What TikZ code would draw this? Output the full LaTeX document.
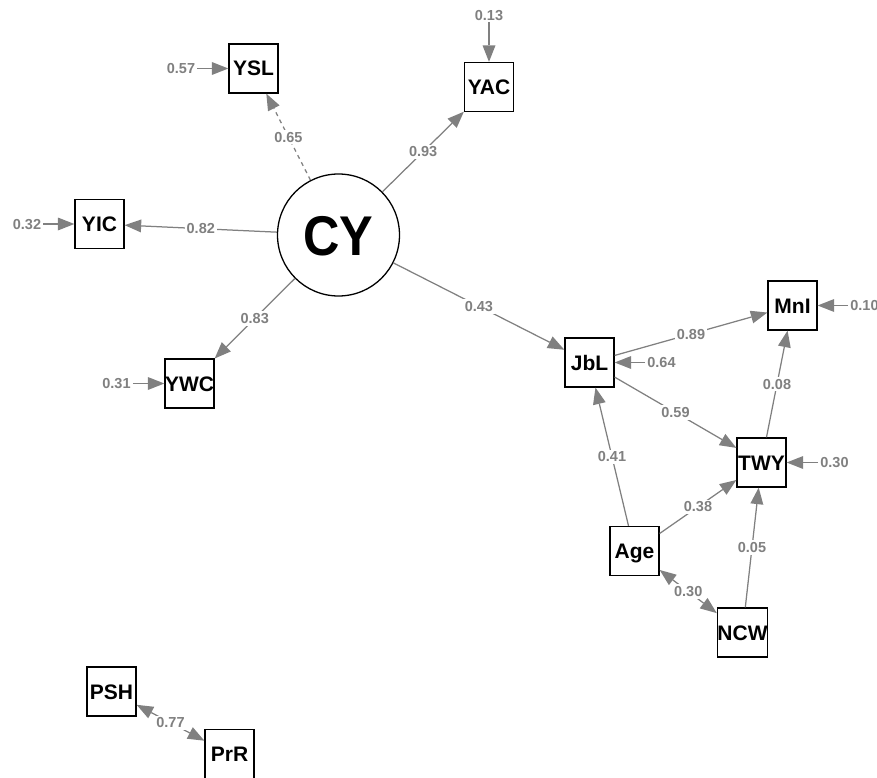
\documentclass[tikz,border=0pt]{standalone}
\usepackage{fontspec}
\setmainfont{Liberation Sans}
\usetikzlibrary{arrows.meta}
\begin{document}
\begin{tikzpicture}[x=1pt,y=-1pt,
  vbox/.style={draw=black, line width=1.3pt, fill=white, minimum size=49pt, inner sep=0pt,
    font=\fontsize{21}{22}\selectfont\bfseries, text height=15pt, text depth=0pt},
  lvar/.style={circle, draw=black, line width=1.3pt, fill=white, minimum size=122pt, inner sep=0pt,
    font=\fontsize{56}{57}\selectfont\bfseries, text height=40pt, text depth=0pt},
  arr/.style={draw=gray, line width=1.25pt, -{Triangle[length=16.5pt,width=13pt,line width=0pt]}},
  biarr/.style={draw=gray, line width=1.25pt, {Triangle[length=16.5pt,width=13pt,line width=0pt]}-{Triangle[length=16.5pt,width=13pt,line width=0pt]}},
  elab/.style={fill=white, text=gray, inner sep=2pt, font=\fontsize{14.5}{15}\selectfont\bfseries, text height=10.4pt, text depth=0pt},
  rlab/.style={text=gray, inner sep=2pt, font=\fontsize{14.5}{15}\selectfont\bfseries, text height=10.4pt, text depth=0pt}
]
\useasboundingbox (0,0) rectangle (877,778);
\clip (0,0) rectangle (877,778);

% nodes
\node[lvar] (CY) at (338.5,235) {\scalebox{0.9}[1]{CY}};
\node[vbox] (YSL) at (253.5,68.5) {YSL};
\node[vbox] (YAC) at (489,87) {YAC};
\node[vbox] (YIC) at (99.5,224) {YIC};
\node[vbox] (YWC) at (189.5,383.5) {YWC};
\node[vbox] (JbL) at (589.5,362.5) {JbL};
\node[vbox] (MnI) at (792.5,305.5) {MnI};
\node[vbox] (TWY) at (761.5,462.5) {TWY};
\node[vbox] (Age) at (634.5,551) {Age};
\node[vbox] (NCW) at (742.5,632.5) {NCW};
\node[vbox] (PSH) at (111.5,691.5) {PSH};
\node[vbox] (PrR) at (229.5,754) {PrR};

% residual labels
\node[rlab] (rYSL) at (181,68.5) {0.57};
\node[rlab] (rYAC) at (489,15) {0.13};
\node[rlab] (rYIC) at (27,224) {0.32};
\node[rlab] (rYWC) at (116.5,383.5) {0.31};
\node[rlab] (rJbL) at (661.5,362.5) {0.64};
\node[rlab] (rMnI) at (864.5,305.5) {0.10};
\node[rlab] (rTWY) at (834.5,462.5) {0.30};

\draw[arr] (rYSL) -- (YSL);
\draw[arr] (rYAC) -- (YAC);
\draw[arr] (rYIC) -- (YIC);
\draw[arr] (rYWC) -- (YWC);
\draw[arr] (rJbL) -- (JbL);
\draw[arr] (rMnI) -- (MnI);
\draw[arr] (rTWY) -- (TWY);

% structural edges
\draw[arr, dash pattern=on 4pt off 4pt] (CY) -- node[elab] (l1) {0.65} (YSL);
\draw[arr] (CY) -- node[elab] (l2) {0.93} (YAC);
\draw[arr] (CY) -- node[elab] (l3) {0.82} (YIC);
\draw[arr] (CY) -- node[elab] (l4) {0.83} (YWC);
\draw[arr] (CY) -- node[elab] (l5) {0.43} (JbL);
\draw[arr] (JbL) -- node[elab] (l6) {0.89} (MnI);
\draw[arr] (JbL) -- node[elab] (l7) {0.59} (TWY);
\draw[arr] (Age) -- node[elab] (l8) {0.41} (JbL);
\draw[arr] (Age) -- node[elab] (l9) {0.38} (TWY);
\draw[arr] (NCW) -- node[elab] (l10) {0.05} (TWY);
\draw[arr] (TWY) -- node[elab] (l11) {0.08} (MnI);
\draw[biarr] (Age) -- node[elab] (l12) {0.30} (NCW);
\draw[biarr] (PSH) -- node[elab] (l13) {0.77} (PrR);
\end{tikzpicture}
\end{document}
